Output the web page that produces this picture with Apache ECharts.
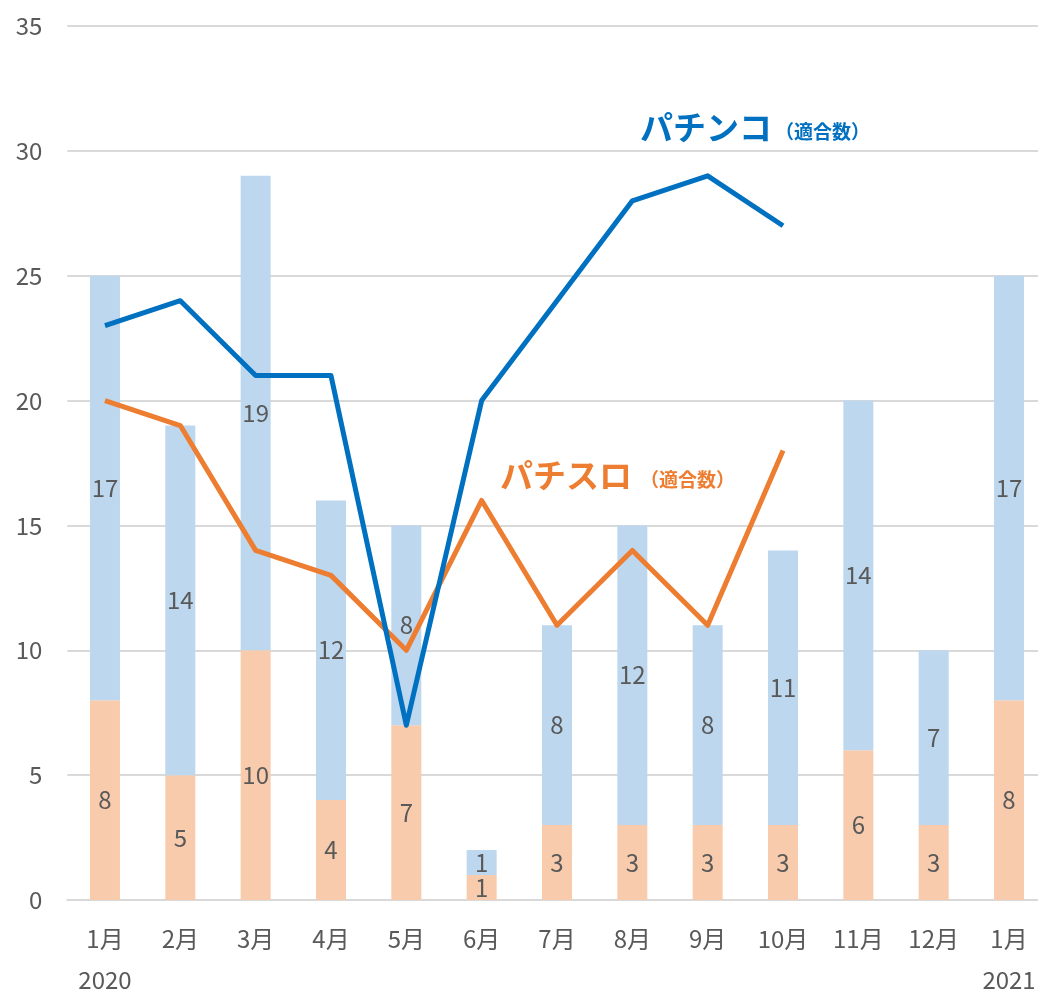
<!DOCTYPE html>
<html><head><meta charset="utf-8">
<script src="https://cdn.jsdelivr.net/npm/echarts@6/dist/echarts.min.js"></script>
<style>html,body{margin:0;padding:0;background:#fff}#c{width:1038px;height:992px}</style>
</head><body><div id="c"></div>
<script>
const months = ['1月','2月','3月','4月','5月','6月','7月','8月','9月','10月','11月','12月','1月'];
const years = ['2020','','','','','','','','','','','','2021'];
const slotBars = [8,5,10,4,7,1,3,3,3,3,6,3,8];
const pachinkoBars = [17,14,19,12,8,1,8,12,8,11,14,7,17];
const pachinkoLine = [23,24,21,21,7,20,24,28,29,27];
const slotLine = [20,19,14,13,10,16,11,14,11,18];
const yTicks = [0,5,10,15,20,25,30,35];

const FONT = '"Noto Sans CJK JP", "Noto Sans", sans-serif';
const chart = echarts.init(document.getElementById('c'));
const barLabel = {show:true, position:'inside', fontSize:24, color:'#595959', fontFamily:FONT};
chart.setOption({
  animation:false,
  textStyle:{fontFamily:FONT},
  grid:{left:67.3, right:-8.7, top:26, bottom:92, containLabel:false, outerBoundsMode:'none'},
  xAxis:{type:'category', data:months.map((m,i)=>years[i]?m+'\n'+years[i]:m),
    axisTick:{show:false},
    axisLine:{lineStyle:{color:'#d9d9d9', width:2}},
    axisLabel:{fontSize:24, color:'#595959', margin:18, lineHeight:41, interval:0, fontFamily:FONT}},
  yAxis:{type:'value', min:yTicks[0], max:yTicks[yTicks.length-1], interval:5,
    axisLine:{show:false}, axisTick:{show:false},
    splitLine:{lineStyle:{color:'#d9d9d9', width:2}},
    axisLabel:{fontSize:24, color:'#595959', margin:25, fontFamily:FONT}},
  series:[
    {type:'bar', stack:'a', data:slotBars, barWidth:30, itemStyle:{color:'#F8CBAD'}, label:barLabel},
    {type:'bar', stack:'a', data:pachinkoBars, barWidth:30, itemStyle:{color:'#BDD7EE'}, label:barLabel},
    {type:'line', data:slotLine, showSymbol:false, symbol:'none', lineStyle:{color:'#ED7D31', width:5, join:'round'}, z:5},
    {type:'line', data:pachinkoLine, showSymbol:false, symbol:'none', lineStyle:{color:'#0070C0', width:5, join:'round'}, z:6}
  ],
  graphic:[
    {type:'text', x:640, y:127, z:10, style:{text:'パチンコ', fontSize:33, fontWeight:'bold', fill:'#0070C0', fontFamily:FONT, verticalAlign:'middle'}},
    {type:'text', x:775, y:132, z:10, style:{text:'（適合数）', fontSize:19, fontWeight:'bold', fill:'#0070C0', fontFamily:FONT, verticalAlign:'middle'}},
    {type:'text', x:500, y:475, z:10, style:{text:'パチスロ', fontSize:33, fontWeight:'bold', fill:'#ED7D31', fontFamily:FONT, verticalAlign:'middle'}},
    {type:'text', x:640, y:480, z:10, style:{text:'（適合数）', fontSize:19, fontWeight:'bold', fill:'#ED7D31', fontFamily:FONT, verticalAlign:'middle'}}
  ]
});
</script></body></html>
